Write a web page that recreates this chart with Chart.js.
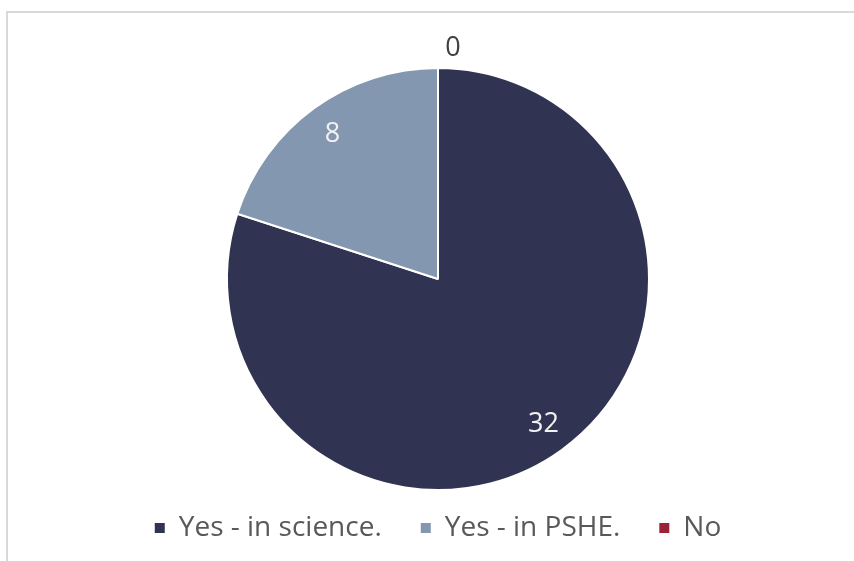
<!DOCTYPE html>
<html>
<head>
<meta charset="utf-8">
<script src="https://cdn.jsdelivr.net/npm/chart.js@4.4.0/dist/chart.umd.min.js"></script>
<style>
  html, body { margin: 0; padding: 0; background: #ffffff; overflow: hidden; }
  #wrap { position: relative; width: 854px; height: 561px; }
  #frame { position: absolute; left: 6px; top: 11px; width: 900px; height: 600px; border: 2px solid #d9d9d9; box-sizing: border-box; }
  canvas { position: absolute; left: 0; top: 0; }
</style>
</head>
<body>
<div id="wrap">
  <div id="frame"></div>
  <canvas id="c" width="854" height="561"></canvas>
</div>
<script>
const categories = ["Yes - in science.", "Yes - in PSHE.", "No"];
const counts = [32, 8, 0];
const sliceColors = ["#303452", "#8497b0", "#9b2335"];

const FONT = "'Open Sans', 'Noto Sans', sans-serif";

const valueLabels = {
  id: 'valueLabels',
  afterDatasetsDraw(chart) {
    const ctx = chart.ctx;
    const meta = chart.getDatasetMeta(0);
    ctx.save();
    ctx.font = "27px " + FONT;
    ctx.textBaseline = 'middle';
    ctx.textAlign = 'center';
    meta.data.forEach((arc, i) => {
      const p = arc.getProps(['x', 'y', 'startAngle', 'endAngle', 'outerRadius'], true);
      const mid = (p.startAngle + p.endAngle) / 2;
      const txt = String(counts[i]);
      if (counts[i] > 0) {
        const d = p.outerRadius * 0.85;
        ctx.fillStyle = '#f2f2f2';
        ctx.fillText(txt, p.x + Math.cos(mid) * d, p.y + Math.sin(mid) * d);
      } else {
        const d = p.outerRadius + 20;
        ctx.fillStyle = '#404040';
        ctx.fillText(txt, p.x + Math.cos(mid) * d + 15, p.y + Math.sin(mid) * d);
      }
    });
    ctx.restore();
  }
};

new Chart(document.getElementById('c'), {
  type: 'pie',
  data: {
    labels: categories,
    datasets: [{
      data: counts,
      backgroundColor: sliceColors,
      borderColor: '#ffffff',
      borderWidth: 2,
      radius: 211,
      clip: false
    }]
  },
  options: {
    responsive: false,
    animation: false,
    layout: { padding: { top: 83, bottom: 9, left: 24, right: 2 } },
    plugins: {
      tooltip: { enabled: false },
      legend: {
        position: 'bottom',
        labels: {
          boxWidth: 10,
          boxHeight: 10,
          padding: 39,
          color: '#595959',
          font: { family: FONT, size: 28 },
          generateLabels(chart) {
            const items = Chart.overrides.pie.plugins.legend.labels.generateLabels(chart);
            items.forEach(it => { it.lineWidth = 0; it.strokeStyle = it.fillStyle; });
            return items;
          }
        }
      }
    }
  },
  plugins: [valueLabels]
});
</script>
</body>
</html>
